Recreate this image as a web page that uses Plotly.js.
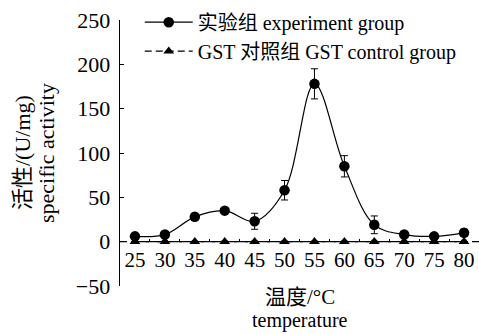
<!DOCTYPE html>
<html>
<head>
<meta charset="utf-8">
<script src="https://cdn.plot.ly/plotly-3.0.1.min.js"></script>
<style>html,body{margin:0;padding:0;background:#fff;}#chart{width:479px;height:334px;}</style>
</head>
<body>
<div id="chart"></div>
<script>
const temperatures = ['25','30','35','40','45','50','55','60','65','70','75','80'];
const experimentValues = [6, 8, 28, 35, 23, 58, 178, 85, 19, 8, 6, 10];
const experimentErrors = [3, 3, 4, 3, 9, 11, 17, 12, 10, 3, 3, 4];
const controlValues = [0, 0, 0, 0, 0, 0, 0, 0, 0, 0, 0, 0];
const controlErrors = [1.5, 1.5, 1, 1, 1, 1, 1, 1, 1.5, 1.5, 1.5, 1.5];
const seriesNames = ['实验组 experiment group', 'GST 对照组 GST control group'];
const yTitleLines = ['活性/(U/mg)', 'specific activity'];
const xTitleLines = ['温度/°C', 'temperature'];

const FONT = '"Liberation Serif", "Noto Sans CJK SC", serif';
const NUMFONT = '"Liberation Serif", serif';

const traces = [
  {
    x: temperatures, y: experimentValues, name: seriesNames[0],
    type: 'scatter', mode: 'lines+markers',
    line: {color: '#000', width: 1.2, shape: 'spline', smoothing: 1},
    marker: {symbol: 'circle', size: 10.5, color: '#000'},
    error_y: {type: 'data', array: experimentErrors, visible: true, color: '#000', thickness: 1, width: 3.5}
  },
  {
    x: temperatures, y: controlValues, name: seriesNames[1],
    type: 'scatter', mode: 'lines+markers',
    line: {color: '#000', width: 1.2, dash: '7px,4px'},
    marker: {symbol: 'triangle-up', size: 9.5, color: '#000'},
    error_y: {type: 'data', array: controlErrors, visible: true, color: '#000', thickness: 1, width: 3}
  }
];

const layout = {
  width: 479, height: 334,
  margin: {l: 120, r: 0, t: 20, b: 48},
  paper_bgcolor: '#fff', plot_bgcolor: '#fff',
  font: {family: FONT, size: 20, color: '#000'},
  showlegend: true,
  legend: {
    x: 0.055, xanchor: 'left', y: 1.065, yanchor: 'top',
    bgcolor: 'rgba(0,0,0,0)', borderwidth: 0,
    font: {family: FONT, size: 20, color: '#000'},
    itemwidth: 48,
    tracegroupgap: 0
  },
  xaxis: {
    type: 'category', range: [-0.5, 11.5],
    anchor: 'free', position: 1/6,
    showline: false, showgrid: false, zeroline: false,
    ticks: 'inside', tickson: 'boundaries', ticklen: 3, tickcolor: '#000',
    tickangle: 0, automargin: false, ticklabelstandoff: 3,
    tickfont: {family: NUMFONT, size: 21, color: '#000'}
  },
  yaxis: {
    range: [-50, 250], dtick: 50,
    showline: true, linecolor: '#000', linewidth: 1,
    showgrid: false, zeroline: false,
    ticks: 'inside', ticklen: 4, tickcolor: '#000',
    ticksuffix: '\u2009',
    tickfont: {family: NUMFONT, size: 22, color: '#000'}
  },
  annotations: [
    {text: yTitleLines[0], xref: 'paper', yref: 'paper', x: 0, y: 0.5, xanchor: 'center', yanchor: 'middle',
     xshift: -98, textangle: -90, showarrow: false, font: {family: FONT, size: 22, color: '#000'}},
    {text: yTitleLines[1], xref: 'paper', yref: 'paper', x: 0, y: 0.5, xanchor: 'center', yanchor: 'middle',
     xshift: -74, textangle: -90, showarrow: false, font: {family: FONT, size: 22, color: '#000'}},
    {text: xTitleLines[0], xref: 'paper', yref: 'paper', x: 0.5, y: 0, xanchor: 'center', yanchor: 'middle',
     yshift: -11, showarrow: false, font: {family: FONT, size: 21, color: '#000'}},
    {text: xTitleLines[1], xref: 'paper', yref: 'paper', x: 0.5, y: 0, xanchor: 'center', yanchor: 'middle',
     yshift: -34, showarrow: false, font: {family: FONT, size: 20, color: '#000'}}
  ],
  shapes: [
    {type: 'line', xref: 'paper', x0: 0, x1: 1, yref: 'y', y0: 0, y1: 0,
     line: {color: '#000', width: 1.2, dash: '7px,4px'}, layer: 'below'}
  ]
};

Plotly.newPlot('chart', traces, layout, {displayModeBar: false, staticPlot: true});
</script>
</body>
</html>
